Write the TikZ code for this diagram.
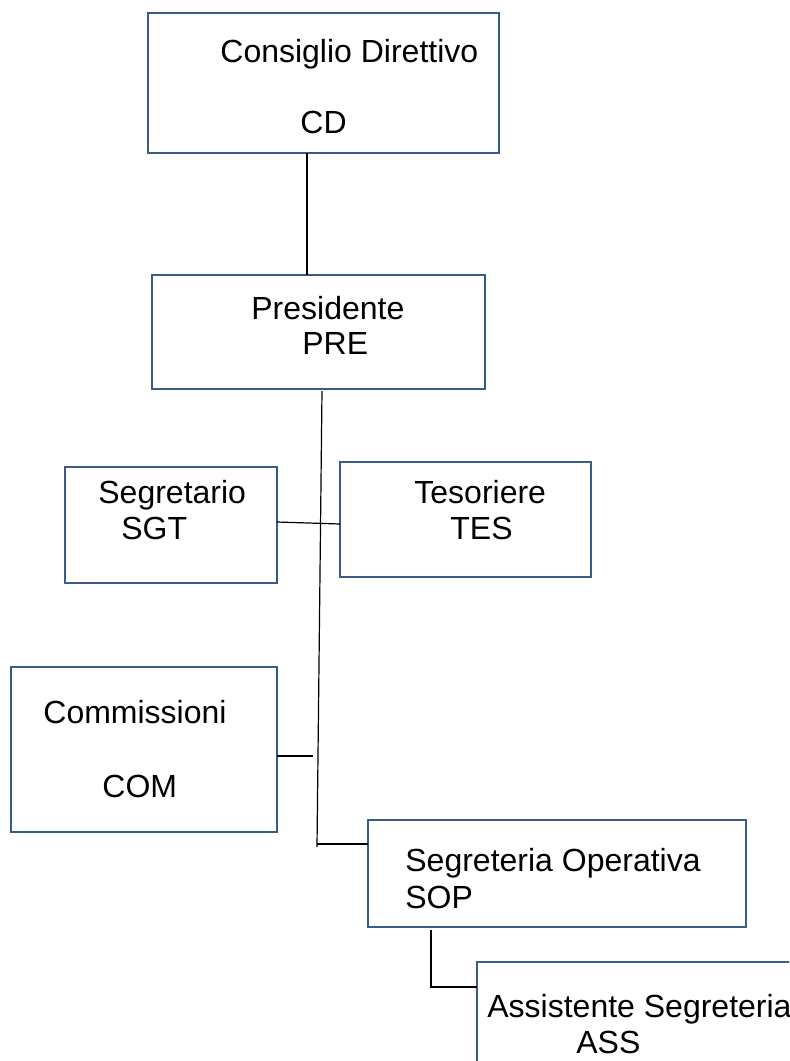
\documentclass[tikz,border=0pt]{standalone}
\usepackage{fontspec}
\setmainfont{Liberation Sans}
\definecolor{boxblue}{HTML}{385D8A}

\begin{document}
\begin{tikzpicture}[
		x=0.5pt, y=-0.5pt,
		boxnode/.style={draw=boxblue, line width=1.3pt, rectangle, inner sep=0pt, outer sep=0pt},
		txt/.style={anchor=base west, inner sep=0pt, font=\fontsize{16pt}{19pt}\selectfont},
		link/.style={draw=black, line width=0.6pt}
		]
		\clip (0,0) rectangle (789,1061);
		% Boxes
		\node[boxnode, minimum width=175.5pt, minimum height=70pt] (cd) at (323.5,83) {};
		\node[boxnode, minimum width=166.5pt, minimum height=57pt] (pre) at (318.5,332) {};
		\node[boxnode, minimum width=106pt, minimum height=58pt] (sgt) at (171,525) {};
		\node[boxnode, minimum width=125.5pt, minimum height=57.5pt] (tes) at (465.5,519.5) {};
		\node[boxnode, minimum width=133pt, minimum height=82.5pt] (com) at (144,749.5) {};
		\node[boxnode, minimum width=189pt, minimum height=53.5pt] (sop) at (557,873.5) {};
		\node[boxnode, anchor=north west, minimum width=181.5pt, minimum height=79pt] (ass) at (477,962) {};
		
		% Texts
		\node[txt] (cdname) at (220,62) {Consiglio Direttivo};
		\node[txt] (cdcode) at (300,133) {CD};
		\node[txt] (prename) at (251,319) {Presidente};
		\node[txt] (precode) at (302,354) {PRE};
		\node[txt] (sgtname) at (98,503) {Segretario};
		\node[txt] (sgtcode) at (121,539) {SGT};
		\node[txt] (tesname) at (414,503) {Tesoriere};
		\node[txt] (tescode) at (450,539) {TES};
		\node[txt] (comname) at (43,723) {Commissioni};
		\node[txt] (comcode) at (102,797) {COM};
		\node[txt] (sopname) at (405,871) {Segreteria Operativa};
		\node[txt] (sopcode) at (405,908) {SOP};
		\node[txt] (assname) at (487,1017) {Assistente Segreteria};
		\node[txt] (asscode) at (576,1053) {ASS};
		
		% Lines
		\coordinate (trunk) at (317,844);
		\coordinate (comend) at (313,756);
		\draw[link] ([xshift=-8.25pt]cd.south) -- ([xshift=-5.75pt]pre.north);
		\draw[link] ([xshift=1.75pt, yshift=-1pt]pre.south) -- ([yshift=-1.5pt]trunk);
		\draw[link] ([yshift=1.5pt]sgt.east) -- ([yshift=-2.25pt]tes.west);
		\draw[link] ([yshift=-3.25pt]com.east) -- (comend);
		\draw[link] (trunk) -- (trunk -| sop.west);
		\draw[link] ([xshift=31.5pt, yshift=-1.5pt]sop.south west) |- ([yshift=-12.5pt]ass.north west);
	\end{tikzpicture}
\end{document}
